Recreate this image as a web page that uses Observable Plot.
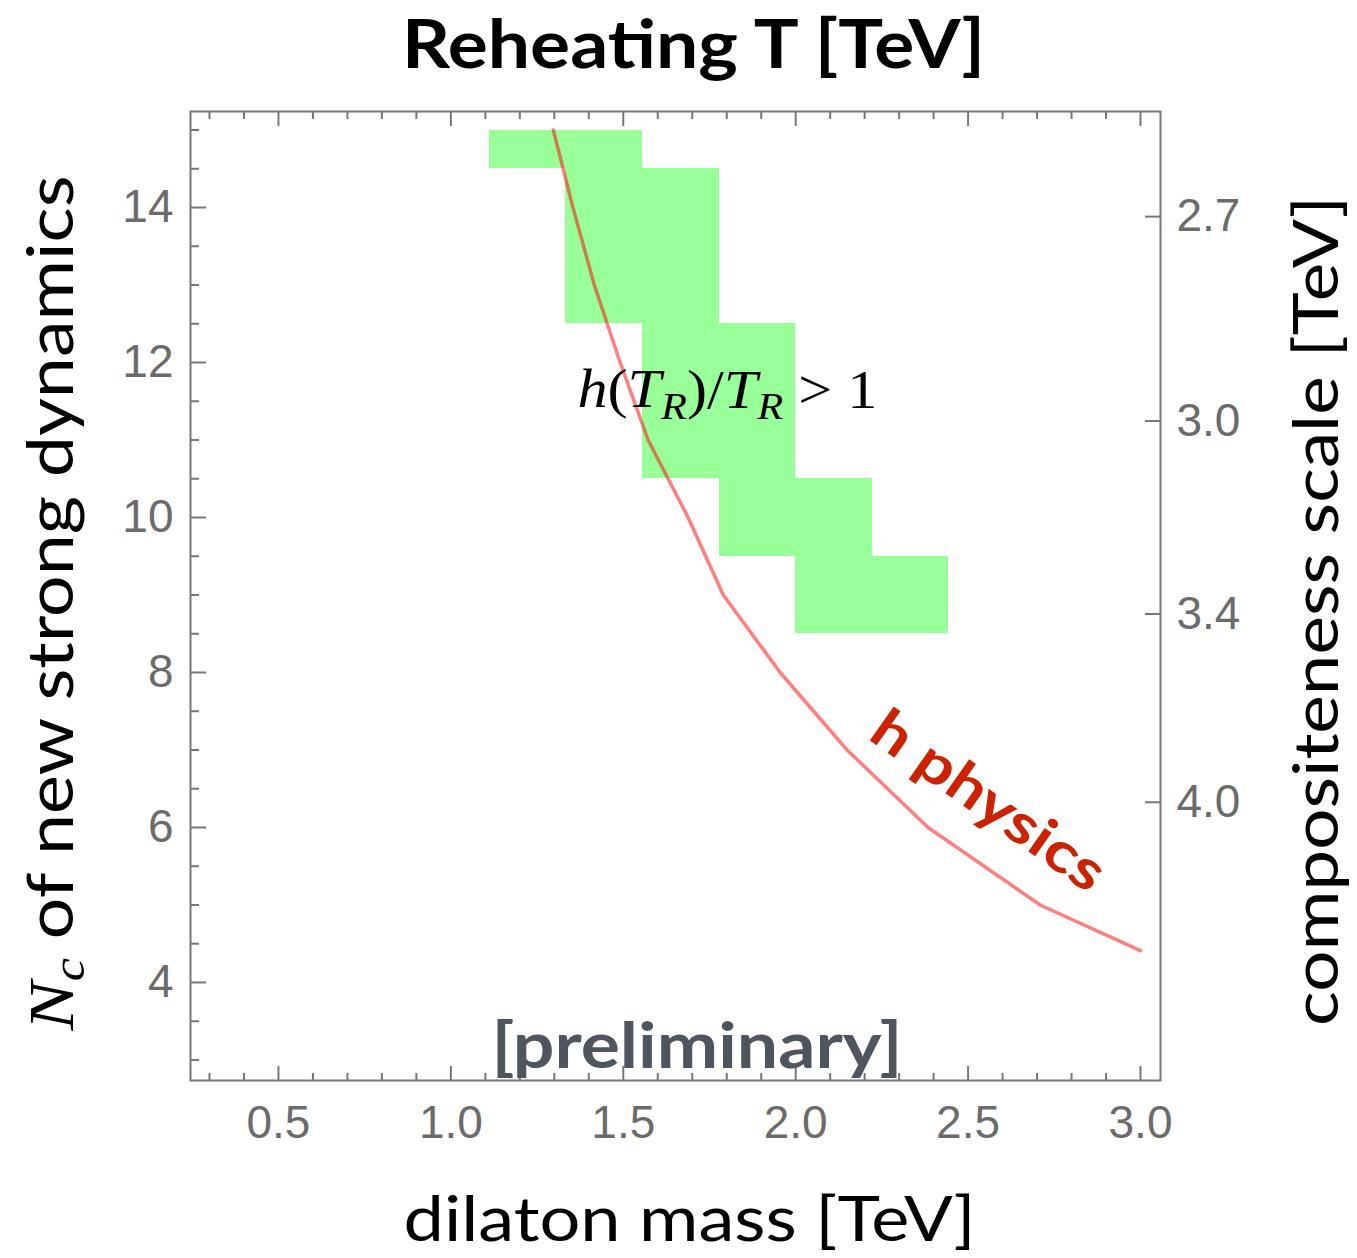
<!DOCTYPE html>
<html><head><meta charset="utf-8">
<script src="https://cdn.jsdelivr.net/npm/d3@7"></script>
<script src="https://cdn.jsdelivr.net/npm/@observablehq/plot@0.6"></script>
<style>body{margin:0;background:#fff}</style>
</head><body><div id="chart"></div>
<script>
// ---- data ----
const cellNc   = [15, 15, 14, 14, 13, 13, 12, 12, 11, 11, 10, 10, 9, 9];
const cellMass = [1.222, 1.444, 1.444, 1.667, 1.444, 1.667, 1.667, 1.889, 1.667, 1.889, 1.889, 2.111, 2.111, 2.333];
const cellWidth = 0.222;   // dilaton-mass bin width [TeV]
const ncMax = 15;          // top of the scanned Nc range
const lineMass = [1.297, 1.354, 1.416, 1.491, 1.572, 1.688, 1.790, 1.955, 2.149, 2.384, 2.709, 3.0];
const lineNc   = [15, 14, 13, 12, 11, 10, 9, 8, 7, 6, 5, 4.41];
const xTickLabels = [0.5, 1.0, 1.5, 2.0, 2.5, 3.0];
const yTickLabels = [4, 6, 8, 10, 12, 14];
const compositenessTicks = [2.7, 3.0, 3.4, 4.0];
const compositenessConst = 10.06;  // f [TeV] = C / sqrt(Nc)

const cells = cellNc.map((nc, i) => ({nc, m: cellMass[i]}));
const curve = lineMass.map((m, i) => ({m, nc: lineNc[i]}));
const xMinor = d3.range(3, 31).map(d => d / 10).filter(d => !xTickLabels.includes(d));
const yMinor = d3.range(6, 31).map(d => d / 2).filter(d => !yTickLabels.includes(d));
const rightNc = compositenessTicks.map(f => (compositenessConst / f) ** 2);

const axisGray = "#777";
const labelGray = "#6b6b6b";
const tickStyle = {stroke: axisGray, strokeWidth: 2, fill: "none", label: null};

const TITLE = "Reheating T [TeV]";
const XLABEL = "dilaton mass [TeV]";
const YLABEL = "N_c of new strong dynamics";
const Y2LABEL = "compositeness scale [TeV]";
const COND = "h(T_R)/T_R > 1";
const HPHYS = "h physics";
const PRELIM = "[preliminary]";

const plot = Plot.plot({
  width: 1357, height: 1258,
  marginLeft: 190, marginRight: 197, marginTop: 111, marginBottom: 178,
  style: {fontFamily: "'Liberation Sans', Arial, sans-serif", fontSize: "46px", background: "#fff"},
  x: {domain: [0.2449, 3.058], label: null},
  y: {domain: [2.735, 15.239], label: null},
  marks: [
    Plot.rect(cells, {x1: d => d.m - cellWidth / 2, x2: d => d.m + cellWidth / 2,
                      y1: d => d.nc - 0.5, y2: d => Math.min(d.nc + 0.5, ncMax),
                      fill: "#99ff99", shapeRendering: "crispEdges"}),
    Plot.line(curve, {x: "m", y: "nc", stroke: "#ff0000", strokeOpacity: 0.5, strokeWidth: 3.5}),
    Plot.frame({stroke: axisGray, strokeWidth: 2}),
    // inward ticks
    Plot.axisX(xTickLabels, {...tickStyle, anchor: "top", frameAnchor: "bottom", tickSize: 15}),
    Plot.axisX(xMinor, {...tickStyle, anchor: "top", frameAnchor: "bottom", tickSize: 8}),
    Plot.axisX(xTickLabels, {...tickStyle, anchor: "bottom", frameAnchor: "top", tickSize: 15}),
    Plot.axisX(xMinor, {...tickStyle, anchor: "bottom", frameAnchor: "top", tickSize: 8}),
    Plot.axisY(yTickLabels, {...tickStyle, anchor: "right", frameAnchor: "left", tickSize: 15}),
    Plot.axisY(yMinor, {...tickStyle, anchor: "right", frameAnchor: "left", tickSize: 8}),
    Plot.axisY(rightNc, {...tickStyle, anchor: "left", frameAnchor: "right", tickSize: 15}),
    // tick labels
    Plot.axisX(xTickLabels, {anchor: "bottom", tickSize: 0, tickPadding: 25, fill: labelGray, label: null, tickFormat: d3.format(".1f")}),
    Plot.axisY(yTickLabels, {anchor: "left", tickSize: 0, tickPadding: 17, fill: labelGray, label: null, tickFormat: d => String(d)}),
    Plot.axisY(rightNc, {anchor: "right", tickSize: 0, tickPadding: 16, fill: labelGray, label: null,
                         tickFormat: d => (compositenessConst / Math.sqrt(d)).toFixed(1)}),
    // titles
    Plot.text([TITLE], {frameAnchor: "top", textAnchor: "middle", dx: 18, dy: -44, lineAnchor: "bottom",
      fontSize: 66, fontWeight: "bold", fontFamily: "Lato, sans-serif", fill: "#000"}),
    Plot.text([XLABEL], {frameAnchor: "bottom", textAnchor: "middle", dx: 14, dy: 160, lineAnchor: "bottom",
      fontSize: 62, fontFamily: "Lato, sans-serif", fill: "#000"}),
    Plot.text([YLABEL], {frameAnchor: "left", textAnchor: "middle", dx: -138, dy: 7, rotate: -90,
      lineAnchor: "middle", fontSize: 64, fontFamily: "Lato, sans-serif", fill: "#000"}),
    Plot.text([Y2LABEL], {frameAnchor: "right", textAnchor: "middle", dx: 158, dy: 15, rotate: -90,
      lineAnchor: "middle", fontSize: 62, fontFamily: "Lato, sans-serif", fill: "#000"}),
    // annotations
    Plot.text([COND], {x: () => 1.367, y: () => 11.42, textAnchor: "start", lineAnchor: "bottom",
      fontSize: 54, fontFamily: "'Liberation Serif', 'Times New Roman', serif", fill: "#000"}),
    Plot.text([HPHYS], {x: () => 2.558, y: () => 6.335, textAnchor: "middle", rotate: 35, lineAnchor: "middle",
      fontSize: 56, fontWeight: "bold", fontFamily: "Lato, sans-serif", fill: "#cc2200"}),
    Plot.text([PRELIM], {x: () => 1.714, y: () => 2.89, textAnchor: "middle", lineAnchor: "bottom",
      fontSize: 64, fontWeight: "bold", fontFamily: "Lato, sans-serif", fill: "#4f555e"})
  ]
});
document.getElementById("chart").append(plot);

// ---- rich text / width fitting ----
const svgNS = "http://www.w3.org/2000/svg";
function txt(s) { return [...plot.querySelectorAll("text")].find(t => t.textContent === s); }
function fit(t, len) { if (!t) return; t.setAttribute("textLength", len); t.setAttribute("lengthAdjust", "spacingAndGlyphs"); }
function spans(t, parts) {
  if (!t) return;
  t.textContent = "";
  for (const p of parts) {
    const s = document.createElementNS(svgNS, "tspan");
    s.textContent = p.t;
    if (p.style) s.setAttribute("style", p.style);
    if (p.dy) s.setAttribute("dy", p.dy);
    t.append(s);
  }
}
const tTitle = txt(TITLE), tX = txt(XLABEL), tY = txt(YLABEL), tY2 = txt(Y2LABEL),
      tCond = txt(COND), tH = txt(HPHYS), tP = txt(PRELIM);
const serifI = "font-family:'Liberation Serif','Times New Roman',serif;font-style:italic";
spans(tY, [
  {t: "N", style: serifI},
  {t: "c", style: serifI + ";font-size:46px", dy: "0.25em"},
  {t: " of new strong dynamics", dy: "-0.18em"}
]);
spans(tCond, [
  {t: "h", style: "font-style:italic"},
  {t: "("},
  {t: "T", style: "font-style:italic"},
  {t: "R", style: "font-style:italic;font-size:38px", dy: "0.3em"},
  {t: ")", dy: "-0.21em"},
  {t: "/"},
  {t: "T", style: "font-style:italic"},
  {t: "R", style: "font-style:italic;font-size:38px", dy: "0.3em"},
  {t: " > 1", dy: "-0.21em"}
]);
fit(tTitle, 583);
fit(tX, 572);
fit(tY, 855);
fit(tY2, 830);
fit(tCond, 300);
fit(tH, 272);
fit(tP, 411);
</script></body></html>
